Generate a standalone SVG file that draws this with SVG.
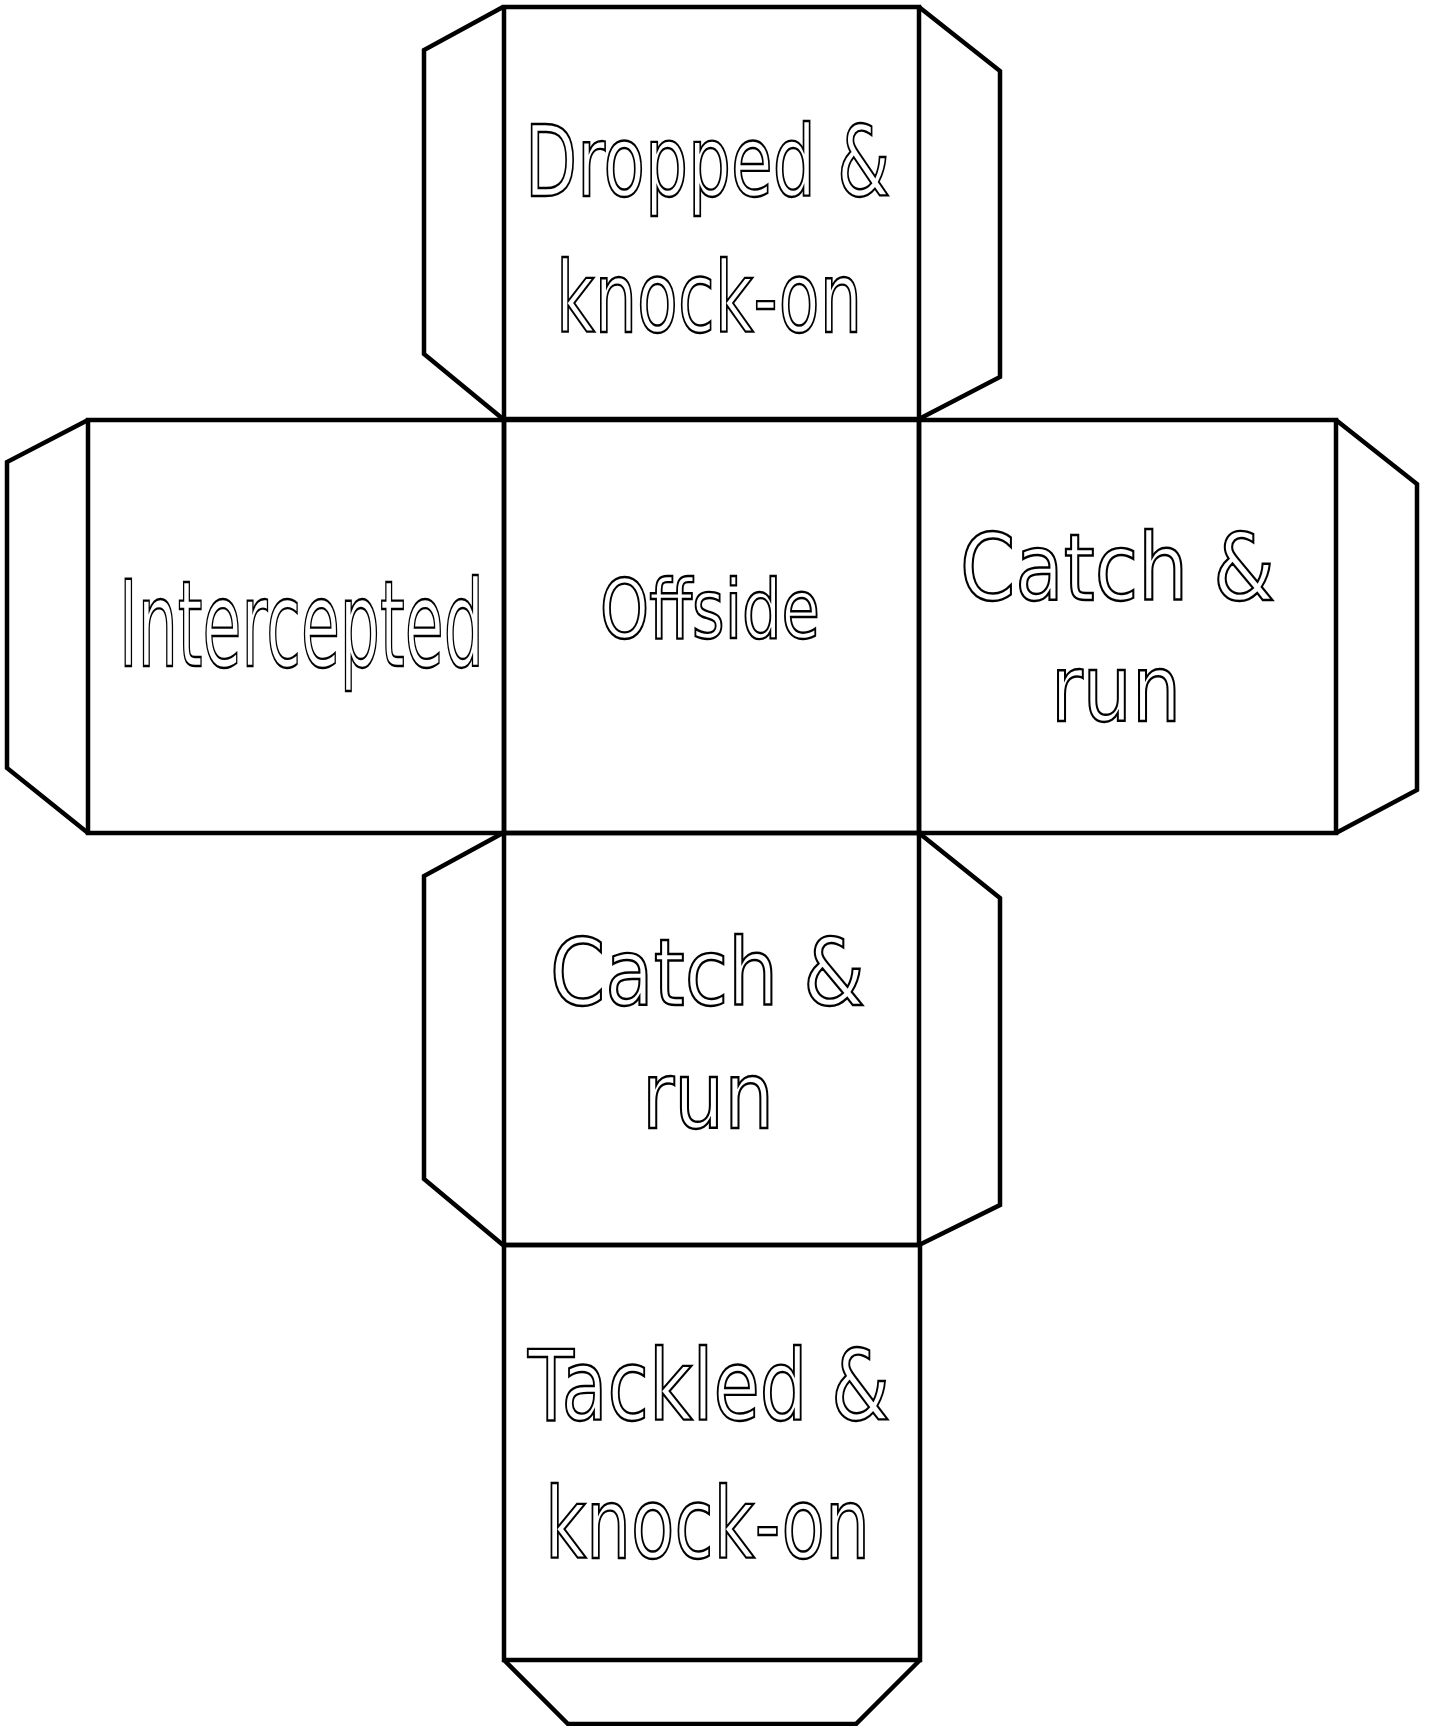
<svg xmlns="http://www.w3.org/2000/svg" width="1429" height="1726" viewBox="0 0 1429 1726">
<style>
.l{fill:none;stroke:#000;stroke-width:4.5;stroke-linejoin:miter}
.t{font-family:"DejaVu Sans","Liberation Sans",sans-serif;fill:#fff;stroke:#000;stroke-width:2.4;text-anchor:start}
</style>
<rect width="1429" height="1726" fill="#fff"/>
<g id="connectors">
<polyline class="l" points="503,7 424,50 424,354 503,419"/>
<polyline class="l" points="919,7 1000,71 1000,377 919,419"/>
<polyline class="l" points="88,420 7,462 7,768 88,833"/>
<polyline class="l" points="1336,420 1417,484 1417,790 1336,833"/>
<polyline class="l" points="503,833 424,876 424,1179 503,1245"/>
<polyline class="l" points="919,833 1000,898 1000,1205 919,1245"/>
<polyline class="l" points="504,1660 568,1724 856,1724 920,1660"/>
</g>
<g id="face-top"><rect class="l" x="504" y="7" width="415" height="412"/>
<text class="t" x="525" y="196" font-size="98" textLength="365" lengthAdjust="spacingAndGlyphs">Dropped &amp;</text>
<text class="t" x="556" y="332" font-size="98" textLength="306" lengthAdjust="spacingAndGlyphs">knock-on</text></g>
<g id="face-left"><rect class="l" x="88" y="420" width="416" height="413"/>
<text class="t" transform="scale(0.525,1)" x="226.7" y="666" font-size="120" stroke-width="3.2" textLength="695" lengthAdjust="spacingAndGlyphs">Intercepted</text></g>
<g id="face-center"><rect class="l" x="504" y="420" width="415" height="413"/>
<text class="t" x="600" y="638" font-size="82" textLength="220" lengthAdjust="spacingAndGlyphs">Offside</text></g>
<g id="face-right"><rect class="l" x="919" y="420" width="417" height="413"/>
<text class="t" x="960" y="600" font-size="92" textLength="315" lengthAdjust="spacingAndGlyphs">Catch &amp;</text>
<text class="t" x="1051" y="721" font-size="92" textLength="130" lengthAdjust="spacingAndGlyphs">run</text></g>
<g id="face-lower"><rect class="l" x="504" y="833" width="415" height="412"/>
<text class="t" x="550" y="1005" font-size="92" textLength="315" lengthAdjust="spacingAndGlyphs">Catch &amp;</text>
<text class="t" x="642" y="1128" font-size="92" textLength="132" lengthAdjust="spacingAndGlyphs">run</text></g>
<g id="face-bottom"><rect class="l" x="504" y="1245" width="416" height="415"/>
<text class="t" x="528" y="1420" font-size="98" textLength="362" lengthAdjust="spacingAndGlyphs">Tackled &amp;</text>
<text class="t" x="545" y="1558" font-size="98" textLength="325" lengthAdjust="spacingAndGlyphs">knock-on</text></g>
</svg>
